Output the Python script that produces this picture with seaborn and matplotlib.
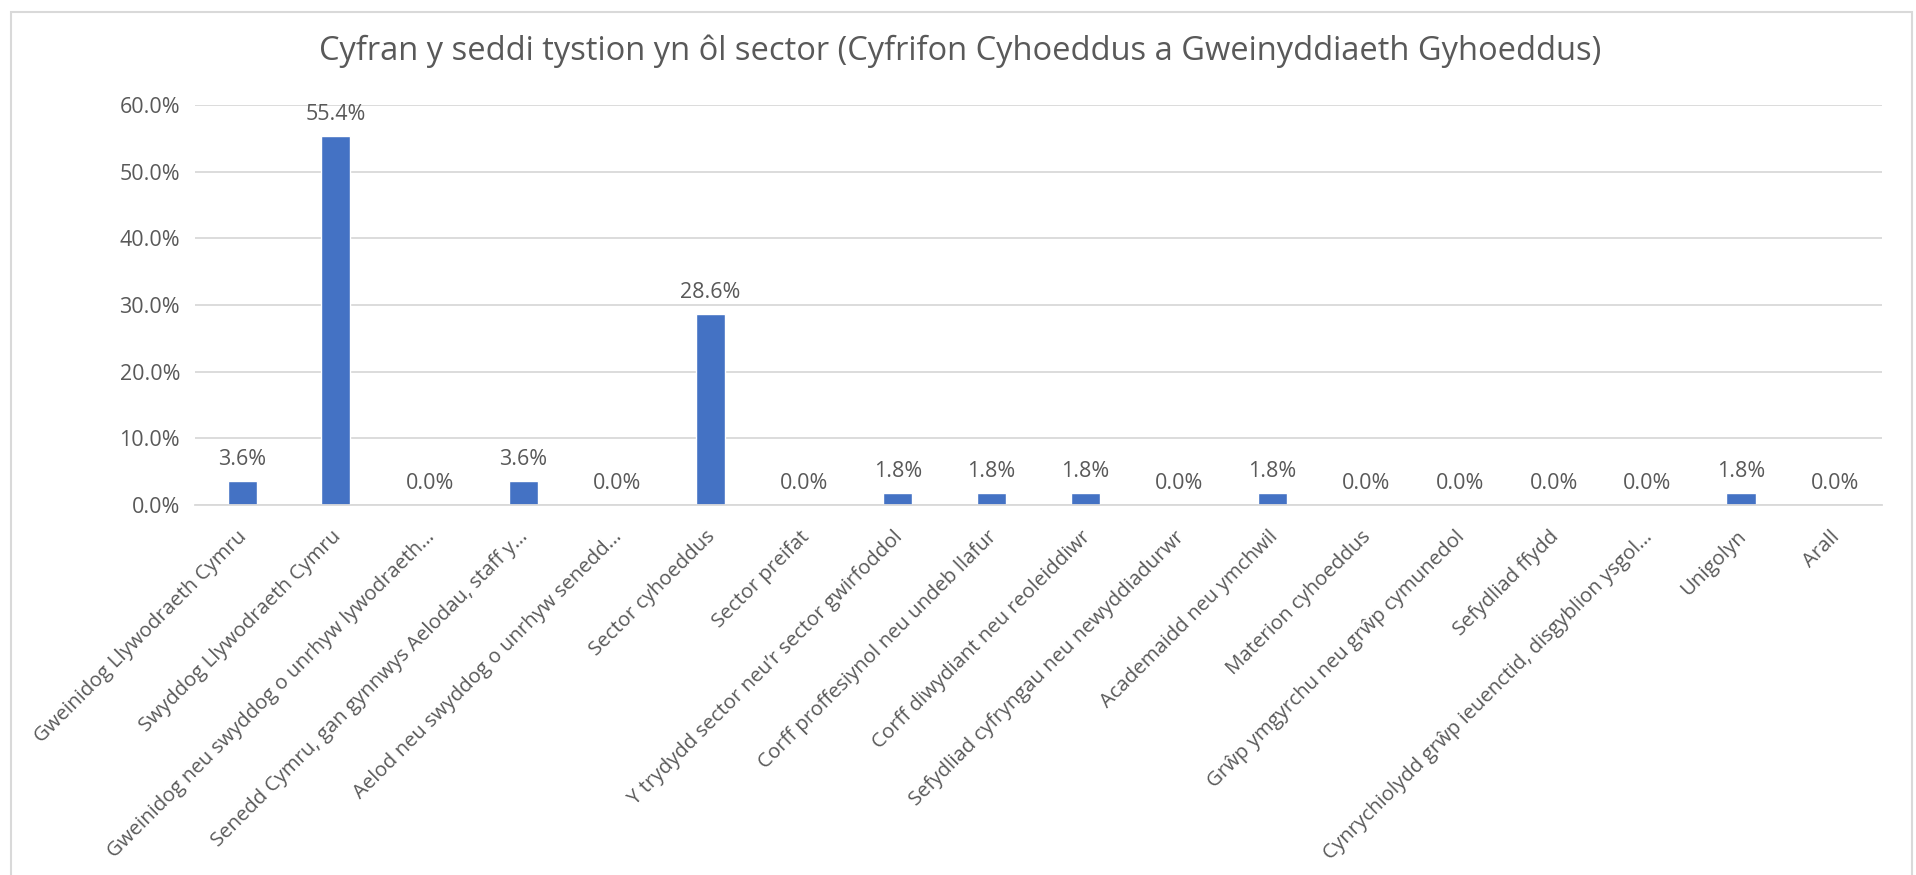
import matplotlib
matplotlib.use("Agg")
import matplotlib.pyplot as plt
import matplotlib.transforms as mtransforms
import seaborn as sns
import pandas as pd
from matplotlib.patches import Rectangle
from matplotlib.ticker import PercentFormatter

# Data
sectors = [
    "Gweinidog Llywodraeth Cymru",
    "Swyddog Llywodraeth Cymru",
    "Gweinidog neu swyddog o unrhyw lywodraeth…",
    "Senedd Cymru, gan gynnwys Aelodau, staff y…",
    "Aelod neu swyddog o unrhyw senedd…",
    "Sector cyhoeddus",
    "Sector preifat",
    "Y trydydd sector neu’r sector gwirfoddol",
    "Corff proffesiynol neu undeb llafur",
    "Corff diwydiant neu reoleiddiwr",
    "Sefydliad cyfryngau neu newyddiadurwr",
    "Academaidd neu ymchwil",
    "Materion cyhoeddus",
    "Grŵp ymgyrchu neu grŵp cymunedol",
    "Sefydliad ffydd",
    "Cynrychiolydd grŵp ieuenctid, disgyblion ysgol…",
    "Unigolyn",
    "Arall",
]
shares = [3.6, 55.4, 0.0, 3.6, 0.0, 28.6, 0.0, 1.8, 1.8, 1.8,
          0.0, 1.8, 0.0, 0.0, 0.0, 0.0, 1.8, 0.0]

title = "Cyfran y seddi tystion yn ôl sector (Cyfrifon Cyhoeddus a Gweinyddiaeth Gyhoeddus)"

df = pd.DataFrame({"sector": sectors, "share": shares})

sns.set_style("white")
plt.rcParams["font.family"] = ["Open Sans", "DejaVu Sans"]

text_grey = "#595959"

fig = plt.figure(figsize=(19.16, 8.75), dpi=100)
ax = fig.add_axes([0.102, 0.423, 0.880, 0.457])

sns.barplot(data=df, x="sector", y="share", color="#4472C4",
            saturation=1, width=0.31, ax=ax)

ax.set_ylim(0, 60)
ax.set_yticks(range(0, 61, 10))
ax.yaxis.set_major_formatter(PercentFormatter(decimals=1))
ax.grid(axis="y", color="#D9D9D9", linewidth=1.3)
ax.set_axisbelow(True)
for s in ["top", "right", "left"]:
    ax.spines[s].set_visible(False)
ax.spines["bottom"].set_color("#D9D9D9")
ax.spines["bottom"].set_linewidth(1.3)

ax.set_xlabel("")
ax.set_ylabel("")
ax.tick_params(axis="y", length=0, labelsize=15.5, labelcolor=text_grey, pad=11)
ax.tick_params(axis="x", length=0, labelsize=14.7, labelcolor=text_grey, pad=8)
ax.set_xticks(range(len(sectors)))
ax.set_xticklabels(sectors, rotation=45, ha="right", rotation_mode="anchor")

# nudge the rotated labels down-left, like the original
shift = mtransforms.ScaledTranslation(-5 / 100, -11 / 100, fig.dpi_scale_trans)
for lbl in ax.get_xticklabels():
    lbl.set_transform(lbl.get_transform() + shift)

# Data labels
ax.bar_label(ax.containers[0], labels=[f"{v:.1f}%" for v in shares],
             padding=8, fontsize=15.5, color=text_grey)

fig.text(0.501, 0.941, title, ha="center", va="center",
         fontsize=23.5, color=text_grey)

# Chart frame
fig.patches.append(Rectangle((0.006, -0.01), 0.992, 0.996,
                             transform=fig.transFigure, fill=False,
                             edgecolor="#D9D9D9", linewidth=1.5))

fig.savefig("out.png", dpi=100)
